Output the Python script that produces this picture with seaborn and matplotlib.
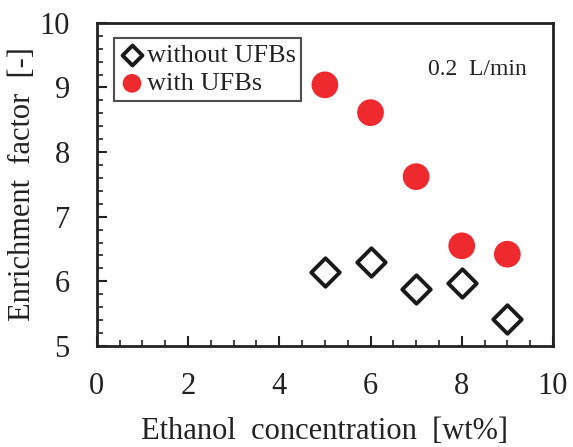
import matplotlib
matplotlib.use("Agg")
import matplotlib.pyplot as plt
import seaborn as sns
import pandas as pd
from matplotlib.ticker import MultipleLocator

conc = [5, 6, 7, 8, 9]
without_ufb = [6.15, 6.30, 5.88, 5.97, 5.42]
with_ufb = [9.04, 8.61, 7.62, 6.55, 6.42]

sns.set_theme(style="white")
plt.rcParams['font.family'] = ['Liberation Serif', 'DejaVu Serif']

fig = plt.figure(figsize=(5.73, 4.47), dpi=100)
ax = fig.add_axes([0.169, 0.226, 0.796, 0.723])

df1 = pd.DataFrame({"x": conc, "y": without_ufb})
df2 = pd.DataFrame({"x": conc, "y": with_ufb})

sns.scatterplot(data=df1, x="x", y="y", ax=ax, marker="D", s=210,
                facecolor="white", edgecolor="#1a1a1a", linewidth=2.8,
                label="without UFBs", zorder=3)
sns.scatterplot(data=df2, x="x", y="y", ax=ax, marker="o", s=370,
                color="#ee2a2e", edgecolor="none", linewidth=0,
                label="with UFBs", zorder=3)

ax.set_xlim(0, 10)
ax.set_ylim(5, 10)
ax.xaxis.set_major_locator(MultipleLocator(2))
ax.xaxis.set_minor_locator(MultipleLocator(0.5))
ax.yaxis.set_major_locator(MultipleLocator(1))
ax.yaxis.set_minor_locator(MultipleLocator(0.2))
ax.tick_params(which="major", direction="in", length=7, width=1.5,
               labelsize=22, colors="#222222")
ax.tick_params(axis="x", which="major", pad=19)
ax.tick_params(axis="y", which="major", pad=19.5)
ax.tick_params(which="minor", direction="in", length=4, width=1.2, colors="#222222")
ax.tick_params(axis="both", which="both", bottom=True, left=True, top=False, right=False)
for s in ax.spines.values():
    s.set_color("#222222")
    s.set_linewidth(2.0)

ax.set_xlabel("Ethanol  concentration  [wt%]", fontsize=22, color="#222222", labelpad=11)
ax.set_ylabel("Enrichment  factor  [-]", fontsize=22, color="#222222", labelpad=2)

ax.text(0.835, 0.855, "0.2  L/min", transform=ax.transAxes, fontsize=17,
        ha="center", va="center", color="#222222")

leg = ax.legend(loc="upper left", bbox_to_anchor=(0.025, 0.97), fontsize=19,
                frameon=True, fancybox=False, edgecolor="#222222",
                handletextpad=0.05, borderpad=0.2, labelspacing=0.2,
                handlelength=1.0, borderaxespad=0.2, markerscale=0.7)
leg.get_frame().set_linewidth(1.5)
for t in leg.get_texts():
    t.set_color("#222222")

fig.savefig("out.png", dpi=100)
